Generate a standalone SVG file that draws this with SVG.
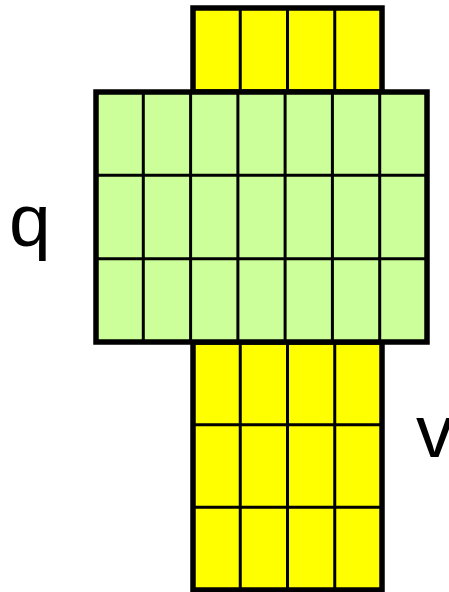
<svg xmlns="http://www.w3.org/2000/svg" width="449" height="592" viewBox="0 0 449 592">
<style>
.y{fill:#ffff00}
.g{fill:#ccff99}
.border{fill:none;stroke:#000;stroke-width:5.5}
.grid{stroke:#000;stroke-width:3;fill:none}
.lbl{font-family:"Liberation Sans",Arial,sans-serif;font-size:75px;fill:#000}
</style>
<g id="v-top">
<rect class="y" x="193" y="8" width="189" height="84"/>
<path class="grid" d="M240.25 8V92M287.5 8V92M334.75 8V92"/>
<rect class="border" x="193" y="8" width="189" height="84"/>
</g>
<g id="v-bottom">
<rect class="y" x="193" y="342" width="189" height="248"/>
<path class="grid" d="M240.25 342V590M287.5 342V590M334.75 342V590M193 424.7H382M193 507.3H382"/>
<rect class="border" x="193" y="342" width="189" height="248"/>
</g>
<g id="q-block">
<rect class="g" x="96" y="92" width="331" height="250"/>
<path class="grid" d="M143.3 92V342M190.6 92V342M237.9 92V342M285.1 92V342M332.4 92V342M379.7 92V342M96 175.3H427M96 258.7H427"/>
<rect class="border" x="96" y="92" width="331" height="250"/>
</g>
<g id="labels">
<text class="lbl" x="9" y="246">q</text>
<text class="lbl" x="416" y="457">v</text>
</g>
</svg>
